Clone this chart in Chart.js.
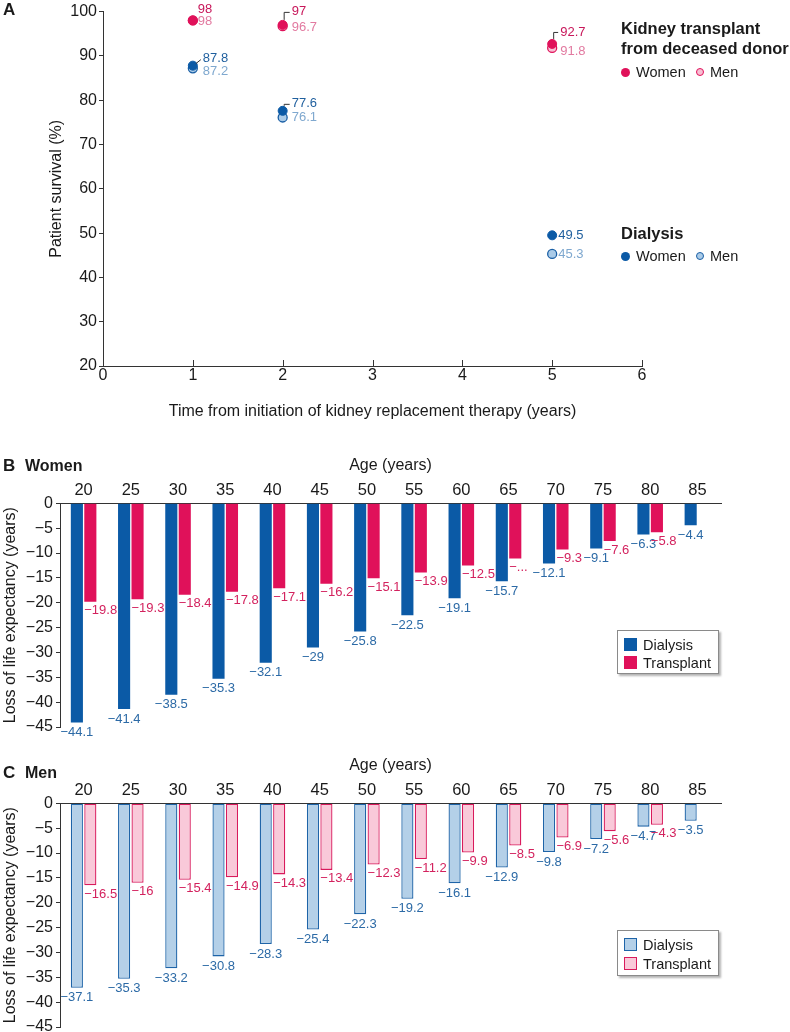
<!DOCTYPE html>
<html>
<head>
<meta charset="utf-8">
<script src="https://cdn.jsdelivr.net/npm/chart.js@4.4.0/dist/chart.umd.min.js"></script>
<style>
  html, body { margin: 0; padding: 0; background: #fff; }
  body { width: 790px; height: 1032px; position: relative; overflow: hidden;
         font-family: "Liberation Sans", Arial, sans-serif; color: #1a1a1a; }
  canvas { position: absolute; left: 0; }
  .t { position: absolute; line-height: 20px; white-space: nowrap; }
  .panel { font-size: 17px; font-weight: bold; }
  .leg { font-size: 16.5px; font-weight: bold; }
  .item { font-size: 14.5px; }
  .dot { position: absolute; width: 9px; height: 9px; border-radius: 50%; box-sizing: border-box; }
  .box { position: absolute; background: #fff; border: 1px solid #8a8a8a;
         box-shadow: 2px 2px 2px rgba(0,0,0,0.3); }
  .sq { position: absolute; width: 13px; height: 13px; box-sizing: border-box; }
</style>
</head>
<body>

<canvas id="survival" width="790" height="430" style="top:0"></canvas>
<canvas id="women" width="790" height="290" style="top:450px"></canvas>
<canvas id="men" width="790" height="290" style="top:750px"></canvas>

<!-- panel A legend -->
<div class="t panel" style="left:3px;top:0">A</div>
<div class="t leg" style="left:621px;top:18px">Kidney transplant</div>
<div class="t leg" style="left:621px;top:38px">from deceased donor</div>
<div class="dot" style="left:621px;top:67.5px;background:#e0115a"></div>
<div class="t item" style="left:636px;top:62px">Women</div>
<div class="dot" style="left:696px;top:68px;width:8px;height:8px;background:#f7bfd3;border:1.3px solid #e0115a"></div>
<div class="t item" style="left:710px;top:62px">Men</div>
<div class="t leg" style="left:621px;top:223px">Dialysis</div>
<div class="dot" style="left:621px;top:251.5px;background:#0b5aa6"></div>
<div class="t item" style="left:636px;top:246px">Women</div>
<div class="dot" style="left:696px;top:252px;width:8px;height:8px;background:#aacbe8;border:1.3px solid #1a5fa5"></div>
<div class="t item" style="left:710px;top:246px">Men</div>

<!-- panel B -->
<div class="t panel" style="left:3px;top:456px">B</div>
<div class="t panel" style="left:25px;top:456px;font-size:16px">Women</div>
<div class="box" style="left:617px;top:630px;width:100px;height:42px">
  <div class="sq" style="left:6px;top:7px;background:#0b5aa6"></div>
  <div class="t item" style="left:25px;top:4px">Dialysis</div>
  <div class="sq" style="left:6px;top:25px;background:#e0115a"></div>
  <div class="t item" style="left:25px;top:22px">Transplant</div>
</div>

<!-- panel C -->
<div class="t panel" style="left:3px;top:763px">C</div>
<div class="t panel" style="left:25px;top:763px;font-size:16px">Men</div>
<div class="box" style="left:617px;top:930px;width:100px;height:44px">
  <div class="sq" style="left:6px;top:7px;background:#b4d0e8;border:1.3px solid #1e64a8"></div>
  <div class="t item" style="left:25px;top:4px">Dialysis</div>
  <div class="sq" style="left:6px;top:26px;background:#f9c9d9;border:1.3px solid #d91a5c"></div>
  <div class="t item" style="left:25px;top:23px">Transplant</div>
</div>

<script>
// ---- data ----
const years = [1, 2, 5];
const transplantWomen = [98, 97, 92.7];
const transplantMen = [98, 96.7, 91.8];
const dialysisWomen = [87.8, 77.6, 49.5];
const dialysisMen = [87.2, 76.1, 45.3];

const ages = [20, 25, 30, 35, 40, 45, 50, 55, 60, 65, 70, 75, 80, 85];
const womenDialysis = [-44.1, -41.4, -38.5, -35.3, -32.1, -29, -25.8, -22.5, -19.1, -15.7, -12.1, -9.1, -6.3, -4.4];
const womenTransplant = [-19.8, -19.3, -18.4, -17.8, -17.1, -16.2, -15.1, -13.9, -12.5, -11.1, -9.3, -7.6, -5.8, null];
const menDialysis = [-37.1, -35.3, -33.2, -30.8, -28.3, -25.4, -22.3, -19.2, -16.1, -12.9, -9.8, -7.2, -4.7, -3.5];
const menTransplant = [-16.5, -16, -15.4, -14.9, -14.3, -13.4, -12.3, -11.2, -9.9, -8.5, -6.9, -5.6, -4.3, null];
// label shown cut off in the source figure
const womenTransplantCutLabels = [65];

// ---- styles ----
const FONT = '"Liberation Sans", Arial, sans-serif';
const AXIS = '#333';
const RED = '#e0115a';
const BLUE = '#0b5aa6';

Chart.defaults.font.family = FONT;
Chart.defaults.color = '#1a1a1a';
Chart.defaults.animation = false;

const minus = v => (v < 0 ? '\u2212' + Math.abs(v) : String(v));

// label offsets for the survival chart, per point
const survivalLabels = [
  { color: '#c8175a', place: [{dx: 5, dy: -11}, {dx: 9, dy: -13, lead: 'bracket'}, {dx: 8, dy: -12, lead: 'bracket'}] },
  { color: '#1f5f9e', place: [{dx: 10, dy: -7, lead: 'diag'}, {dx: 9, dy: -7, lead: 'bracket'}, {dx: 6, dy: 0}] },
  { color: '#e27aa0', place: [{dx: 5, dy: 1}, {dx: 9, dy: 1}, {dx: 8, dy: 3}] },
  { color: '#7fa8cf', place: [{dx: 10, dy: 3}, {dx: 9, dy: 0}, {dx: 6, dy: 1}] }
];

const pointLabels = {
  id: 'pointLabels',
  afterDatasetsDraw(chart) {
    const ctx = chart.ctx;
    ctx.save();
    ctx.font = '13px ' + FONT;
    ctx.textBaseline = 'middle';
    ctx.textAlign = 'left';
    ctx.strokeStyle = AXIS;
    ctx.lineWidth = 1;
    chart.data.datasets.forEach((ds, i) => {
      const st = survivalLabels[i];
      chart.getDatasetMeta(i).data.forEach((pt, j) => {
        const p = st.place[j];
        const lx = pt.x + p.dx, ly = pt.y + p.dy;
        if (p.lead === 'bracket') {
          ctx.beginPath();
          ctx.moveTo(pt.x + 1.5, pt.y - 5);
          ctx.lineTo(pt.x + 1.5, ly + 0.5);
          ctx.lineTo(lx - 2, ly + 0.5);
          ctx.stroke();
        } else if (p.lead === 'diag') {
          ctx.beginPath();
          ctx.moveTo(pt.x + 3, pt.y - 2);
          ctx.lineTo(lx - 2, ly + 1);
          ctx.stroke();
        }
        ctx.fillStyle = st.color;
        ctx.fillText(String(ds.data[j].y), lx, ly);
      });
    });
    ctx.restore();
  }
};

// x ticks of panel A point into the plot
const innerTicks = {
  id: 'innerTicks',
  afterDraw(chart) {
    const x = chart.scales.x, ctx = chart.ctx, b = chart.chartArea.bottom;
    ctx.save();
    ctx.strokeStyle = AXIS;
    ctx.lineWidth = 1;
    x.ticks.forEach(t => {
      if (t.value === 0) return;
      const px = Math.round(x.getPixelForValue(t.value)) + 0.5;
      ctx.beginPath();
      ctx.moveTo(px, b);
      ctx.lineTo(px, b - 6);
      ctx.stroke();
    });
    ctx.restore();
  }
};

const pts = ys => years.map((x, i) => ({x, y: ys[i]}));

new Chart(document.getElementById('survival'), {
  type: 'scatter',
  data: {
    datasets: [
      { data: pts(transplantWomen), backgroundColor: RED, borderColor: RED, borderWidth: 1, pointRadius: 4.5 },
      { data: pts(dialysisWomen), backgroundColor: BLUE, borderColor: BLUE, borderWidth: 1, pointRadius: 4.5 },
      { data: pts(transplantMen), backgroundColor: '#f7bfd3', borderColor: RED, borderWidth: 1.3, pointRadius: 4.5 },
      { data: pts(dialysisMen), backgroundColor: '#aacbe8', borderColor: '#1a5fa5', borderWidth: 1.3, pointRadius: 4.5 }
    ]
  },
  options: {
    responsive: false,
    devicePixelRatio: 1,
    layout: { padding: { left: 0, right: 148, top: 11, bottom: 0 } },
    plugins: { legend: { display: false }, tooltip: { enabled: false } },
    scales: {
      x: {
        type: 'linear', min: 0, max: 6,
        afterFit(s) { s.height = 64; },
        ticks: { stepSize: 1, padding: 0, font: { size: 16 }, color: '#1a1a1a' },
        grid: { display: false, drawTicks: false },
        border: { display: true, color: AXIS, width: 1 },
        title: { display: true, text: 'Time from initiation of kidney replacement therapy (years)',
                 font: { size: 16 }, color: '#1a1a1a', padding: { top: 0, bottom: 9 } }
      },
      y: {
        min: 20, max: 100,
        afterFit(s) { s.width = 103; },
        ticks: { stepSize: 10, padding: 2, font: { size: 16 }, color: '#1a1a1a' },
        grid: { drawOnChartArea: false, tickLength: 4, color: AXIS },
        border: { display: true, color: AXIS, width: 1 },
        title: { display: true, text: 'Patient survival (%)', font: { size: 16 }, color: '#1a1a1a',
                 padding: { top: 47, bottom: 0 } }
      }
    }
  },
  plugins: [pointLabels, innerTicks]
});

// value labels under the bars
const barLabels = {
  id: 'barLabels',
  afterDatasetsDraw(chart) {
    const ctx = chart.ctx;
    ctx.save();
    ctx.font = '13px ' + FONT;
    ctx.textBaseline = 'middle';
    chart.data.datasets.forEach((ds, i) => {
      chart.getDatasetMeta(i).data.forEach((bar, j) => {
        const v = ds.data[j];
        if (v == null) return;
        let text = minus(v);
        if (ds.cut && ds.cut.includes(ages[j])) text = '\u2212...';
        ctx.fillStyle = ds.labelColor;
        if (i === 0) {
          ctx.textAlign = 'center';
          ctx.fillText(text, bar.x, bar.y + 10);
        } else {
          ctx.textAlign = 'left';
          ctx.fillText(text, bar.x - bar.width / 2, bar.y + 9);
        }
      });
    });
    ctx.restore();
  }
};

function lossChart(id, dialysis, transplant, look) {
  return new Chart(document.getElementById(id), {
    type: 'bar',
    data: {
      labels: ages,
      datasets: [
        { label: 'Dialysis', data: dialysis, backgroundColor: look.dFill, borderColor: look.dLine,
          borderWidth: look.bw, borderSkipped: false, labelColor: '#2c6aa6',
          categoryPercentage: 0.57, barPercentage: 0.9 },
        { label: 'Transplant', data: transplant, backgroundColor: look.tFill, borderColor: look.tLine,
          borderWidth: look.bw, borderSkipped: false, labelColor: '#d3225e', cut: look.cut,
          categoryPercentage: 0.57, barPercentage: 0.9 }
      ]
    },
    options: {
      responsive: false,
      devicePixelRatio: 1,
      layout: { padding: { left: 0, right: 69, top: 0, bottom: 13 } },
      plugins: { legend: { display: false }, tooltip: { enabled: false } },
      scales: {
        x: {
          position: 'top',
          afterFit(s) { s.height = 53.3; },
          ticks: { padding: 2.5, font: { size: 16.5 }, color: '#1a1a1a' },
          grid: { display: false, drawTicks: false },
          border: { display: true, color: AXIS, width: 1 },
          title: { display: true, text: 'Age (years)', font: { size: 16 }, color: '#1a1a1a',
                   padding: { top: 6.4, bottom: 0 } }
        },
        y: {
          min: -45, max: 0,
          afterFit(s) { s.width = 60; },
          ticks: { stepSize: 5, padding: 3, font: { size: 16 }, color: '#1a1a1a', callback: v => minus(v) },
          grid: { drawOnChartArea: false, tickLength: 4, color: AXIS },
          border: { display: true, color: AXIS, width: 1 },
          title: { display: true, text: 'Loss of life expectancy (years)', font: { size: 16 }, color: '#1a1a1a',
                   padding: { top: 1.4, bottom: 0 } }
        }
      }
    },
    plugins: [barLabels]
  });
}

lossChart('women', womenDialysis, womenTransplant,
  { dFill: BLUE, dLine: BLUE, tFill: RED, tLine: RED, bw: 0, cut: womenTransplantCutLabels });
lossChart('men', menDialysis, menTransplant,
  { dFill: '#b4d0e8', dLine: '#1e64a8', tFill: '#f9c9d9', tLine: '#d91a5c', bw: 1.3, cut: [] });
</script>
</body>
</html>
